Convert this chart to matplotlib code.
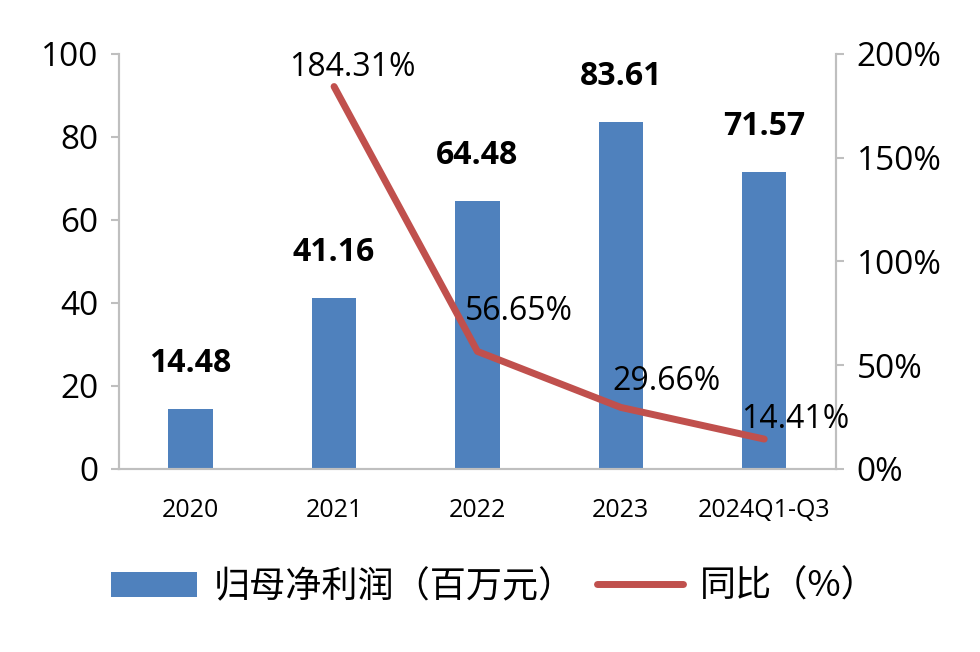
import matplotlib
matplotlib.use('Agg')
import matplotlib.pyplot as plt
import numpy as np
from matplotlib.patches import Patch
from matplotlib.lines import Line2D

# data
categories = ['2020', '2021', '2022', '2023', '2024Q1-Q3']
profit = [14.48, 41.16, 64.48, 83.61, 71.57]
yoy_x = [1, 2, 3, 4]
yoy = [184.31, 56.65, 29.66, 14.41]
left_ticks = [0, 20, 40, 60, 80, 100]
right_ticks = [0, 50, 100, 150, 200]

BLUE = '#4F81BD'
RED = '#C0504D'
GREY = '#BFBFBF'

plt.rcParams['font.family'] = ['Open Sans', 'DejaVu Sans']

fig = plt.figure(figsize=(9.8, 6.52), dpi=100)
ax = fig.add_axes([0.1214, 0.2807, 0.7316, 0.6365])
ax2 = ax.twinx()

x = np.arange(len(categories))
ax.bar(x, profit, width=0.31, color=BLUE, zorder=2)
ax.set_xlim(-0.5, len(categories) - 0.5)
ax.set_ylim(0, 100)
ax.set_yticks(left_ticks)
ax.set_xticks(x)
ax.set_xticklabels(categories, fontsize=18)
ax.tick_params(axis='x', length=0, pad=21)
ax.tick_params(axis='y', length=6, width=1.5, color=GREY, labelsize=24, pad=9)

for xi, v in zip(x, profit):
    ax.annotate(f'{v:.2f}', (xi, v), xytext=(0, 33), textcoords='offset points',
                ha='center', va='center', fontsize=23, fontweight='bold')

ax2.plot(yoy_x, yoy, color=RED, linewidth=5, solid_capstyle='round', zorder=3)
ax2.set_ylim(0, 200)
ax2.set_yticks(right_ticks)
ax2.set_yticklabels([f'{t}%' for t in right_ticks])
ax2.tick_params(axis='y', length=6, width=1.5, color=GREY, labelsize=24, pad=9)

label_offsets = [(13, 14), (30, 29), (33, 19), (22, 14)]
for xi, v, off in zip(yoy_x, yoy, label_offsets):
    ax2.annotate(f'{v:.2f}%', (xi, v), xytext=off, textcoords='offset points',
                 ha='center', va='center', fontsize=23)

for a in (ax, ax2):
    a.spines['top'].set_visible(False)
    for s in ('left', 'right', 'bottom'):
        a.spines[s].set_color(GREY)
        a.spines[s].set_linewidth(1.5)

handles = [Patch(facecolor=BLUE, edgecolor='none'),
           Line2D([0], [0], color=RED, linewidth=5, solid_capstyle='round')]
labels = ['归母净利润（百万元）', '同比（%）']
fig.legend(handles, labels, loc='center', bbox_to_anchor=(0.504, 0.10), ncol=2,
           frameon=False, prop={'family': ['Noto Sans CJK SC', 'DejaVu Sans'], 'size': 26},
           handlelength=2.4, handletextpad=0.45, columnspacing=0.6)

fig.savefig('out.png', dpi=100, facecolor='white')
